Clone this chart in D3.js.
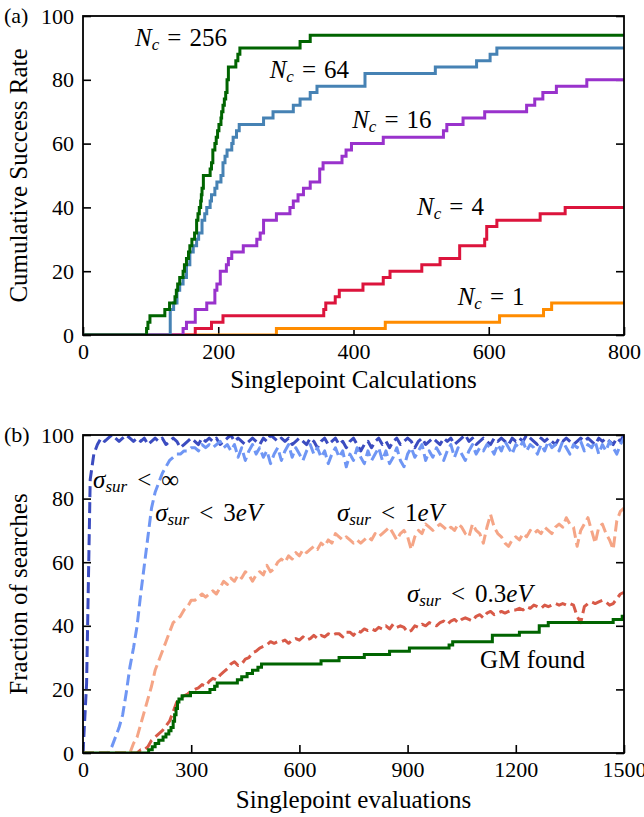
<!DOCTYPE html>
<html><head><meta charset="utf-8">
<script src="https://cdn.jsdelivr.net/npm/d3@7"></script>
<style>
body{margin:0;background:#fff;}
</style></head><body>
<svg id="chart" width="644" height="817"></svg>
<script>
// ---------- Panel (a): cumulative success rate, one step curve per N_c ----------
const ncNames = ["1", "4", "16", "64", "256"];
const ncColors = ["#ff8c00", "#dc143c", "#9932cc", "#4682b4", "#006400"];
// [singlepoint calculations, cumulative success rate %]
const nc1 = [[0,0],[286,2],[447,4],[616,6],[681,8],[693,10],[800,10]];
const nc4 = [[0,0],[166,2],[190,4],[207,6],[356,8],[359,10],[373,12],[379,14],[414,16],[444,18],[454,20],[501,22],[528,24],[557,28],[594,30],[597,34],[612,36],[676,38],[713,40],[800,40]];
const nc16 = [[0,0],[148,2],[153,4],[166,8],[183,10],[195,14],[198,16],[203,20],[212,22],[215,24],[220,26],[237,28],[257,30],[262,32],[267,36],[286,38],[306,40],[311,42],[318,44],[326,46],[336,48],[350,52],[355,54],[383,56],[389,58],[397,60],[444,62],[533,64],[538,66],[562,68],[594,70],[656,72],[668,74],[680,76],[700,78],[745,80],[800,80]];
const nc64 = [[0,0],[129,8],[134,10],[139,14],[143,16],[148,18],[153,22],[158,26],[163,28],[168,30],[171,32],[176,36],[180,38],[183,40],[188,42],[190,44],[195,46],[198,48],[204,50],[207,54],[210,56],[213,58],[220,60],[222,62],[227,64],[231,66],[267,68],[281,70],[311,72],[321,74],[336,76],[346,78],[417,82],[521,84],[582,86],[602,88],[612,90],[800,90]];
const nc256 = [[0,0],[94,2],[96,4],[99,6],[121,8],[128,10],[136,12],[138,14],[140,16],[143,18],[148,20],[150,22],[153,24],[156,26],[158,28],[161,30],[165,32],[168,36],[170,38],[172,40],[174,42],[175,44],[176,46],[178,50],[188,52],[190,54],[192,58],[195,60],[197,62],[199,64],[201,66],[204,68],[205,70],[207,72],[209,74],[211,76],[213,80],[215,84],[226,86],[229,88],[232,90],[321,92],[336,94],[800,94]];
const ncSeries = [nc1, nc4, nc16, nc64, nc256];
// label anchor positions in data units [calculations, rate]
const ncLabelPos = [[554,9.4],[494,37.6],[398,64.9],[276,80.6],[77,90.6]];
const aTicksX = [0, 200, 400, 600, 800];
const aTicksY = [0, 20, 40, 60, 80, 100];

// ---------- Panel (b): fraction of searches vs singlepoint evaluations ----------
const evalGrid = d3.range(0, 1501, 10);   // evaluation counts sampled every 10
const sigmaNames = ["\u221e", "3", "1", "0.3"];
const sigmaColors = ["#3b4cc0", "#6f96f4", "#f5a586", "#d85a48"];
const fracInf = [0,22,86,94,97,99,98,99,100,99,98,
  99,100,99,98,99,98,99,97,98,99,
  98,99,97,98,99,98,96,97,98,99,
  98,97,99,98,99,98,99,97,98,99,
  100,98,99,98,97,98,99,98,97,99,
  98,100,99,98,99,98,99,97,98,99,
  98,97,99,98,96,98,99,97,98,99,
  97,98,96,98,99,97,95,97,98,96,
  98,99,97,98,96,98,99,97,98,99,
  98,96,98,99,97,98,99,98,97,99,
  98,99,97,98,99,100,98,99,97,98,
  99,98,97,99,98,99,98,97,99,98,
  99,98,100,99,98,97,99,98,99,98,
  97,99,98,99,98,97,98,99,98,99,
  98,97,99,98,99,98,97,99,98,100];
const frac3 = [0,0,0,0,0,0,0,0,2,5,8,
  12,19,27,33,40,50,59,68,77,82,
  85,88,90,92,93,94,94,95,95,96,
  96,95,97,96,97,96,97,98,96,97,
  95,97,93,96,92,95,97,94,96,93,
  95,91,94,96,92,95,97,93,96,94,
  92,95,97,94,96,93,95,91,94,96,
  93,95,90,94,92,96,93,91,95,92,
  94,96,92,95,91,93,96,92,90,94,
  96,93,95,97,92,95,93,96,94,92,
  95,97,93,96,94,92,95,97,94,96,
  95,97,96,94,97,95,98,96,94,97,
  96,98,95,97,96,94,97,95,98,96,
  97,95,98,96,94,97,96,98,95,97,
  96,98,94,97,95,98,96,94,97,99];
const frac1 = [0,0,0,0,0,0,0,0,0,0,0,
  0,0,0,3,5,9,13,17,21,26,
  29,32,35,38,41,42,43,45,46,48,
  48,49,50,49,50,51,50,52,54,53,
  55,54,56,55,57,56,54,56,57,56,
  59,57,58,60,61,60,62,61,63,62,
  64,63,64,65,64,66,65,67,66,69,
  68,67,68,67,66,67,66,67,68,67,
  69,68,69,70,71,69,67,69,70,68,
  64,68,70,69,72,71,70,71,72,71,
  70,71,70,72,71,69,68,72,70,69,
  66,71,75,71,69,68,66,65,67,68,
  67,69,68,70,69,70,69,71,70,69,
  71,72,71,74,72,71,65,70,72,74,
  70,66,71,72,69,67,64,73,76,77];
const frac03 = [0,0,0,0,0,0,0,0,0,0,0,
  0,0,0,0,0,1,1,2,4,5,
  6,7,8.5,10,13,16,17.5,18,18.5,19.5,
  20,20.5,21.5,21,22.5,23.5,23,24.5,25.5,26.5,
  28,28.7,27.5,28,29.5,30,31.5,32,33,33.5,
  34,35,34.5,35,35,35.5,34.5,35.5,36,35.5,
  36.5,35.5,36,37,36,37,36.5,37.5,37,37.5,
  37.5,36.5,38,38,37,38.5,38,39,38.5,39,
  38.5,39.5,39,40,39,40.5,39.5,40,39.5,38,
  38.5,40,39.5,40.5,40,41,40.5,40,41,41.5,
  40.5,41.5,42,41,42,42.5,42,41.5,43,43.5,
  42.5,44,44.5,43.5,44,44.5,44,44.5,45,45,
  45.5,45,46,45.5,46.5,46,45.5,46.5,46,46.5,
  47,46.5,47,46.5,47,46.5,43,41,46,47,
  47.5,47,47.5,48,47.5,46.5,47,48.5,50,50.5];
const fracSeries = [fracInf, frac3, frac1, frac03];
// global minimum found: step curve [evaluations, %]
const gmFound = [[0,0],[175,0],[182,1],[192,2],[200,3],[210,4],[222,5],[230,6],[238,7],[244,8],[250,10],[254,12],[258,14],[262,16],[266,17],[275,18],[298,19],[352,20],[365,21],[372,22],[428,23],[440,24],[455,25],[470,26],[485,27],[495,28],[660,29],[710,30],[780,31],[850,32],[905,33],[1015,34],[1025,35],[1135,37],[1210,38],[1265,40],[1290,41],[1470,42],[1495,43],[1500,43]];
const sigmaLabelPos = [[28,83.3],[200,73],[704,73],[898,47.5]];
const gmLabelPos = [1101, 26.7];
const bTicksX = [0, 300, 600, 900, 1200, 1500];
const bTicksY = [0, 20, 40, 60, 80, 100];

// ---------- layout ----------
const FONT = "'Liberation Serif', 'Times New Roman', serif";
const svg = d3.select("#chart");
const left = 83, right = 624;
const panels = {
  a: {top: 16, bottom: 335},
  b: {top: 435, bottom: 753}
};
const tickFont = 22, labelFont = 25;

function frameAxes(g, x, y, top, bottom, ticksX, ticksY, clipId) {
  g.append("clipPath").attr("id", clipId)
    .append("rect").attr("x", left).attr("y", top).attr("width", right - left).attr("height", bottom - top);
  const ax = g.append("g");
  const bottomAxis = d3.axisBottom(x).tickValues(ticksX).tickSize(-8).tickPadding(8).tickFormat(d3.format("d"));
  const leftAxis = d3.axisLeft(y).tickValues(ticksY).tickSize(-8).tickPadding(9).tickFormat(d3.format("d"));
  const rightAxis = d3.axisRight(y).tickValues(ticksY).tickSize(-8).tickFormat("");
  ax.append("g").attr("transform", `translate(0,${bottom})`).call(bottomAxis);
  ax.append("g").attr("transform", `translate(${left},0)`).call(leftAxis);
  ax.append("g").attr("transform", `translate(${right},0)`).call(rightAxis);
  ax.selectAll(".domain").remove();
  ax.selectAll(".tick line").attr("stroke", "#000").attr("stroke-width", 1.6);
  ax.selectAll(".tick text").style("font-size", tickFont + "px").attr("fill", "#000");
  return ax;
}
function drawFrame(g, top, bottom) {
  g.append("rect").attr("x", left).attr("y", top).attr("width", right - left).attr("height", bottom - top)
    .attr("fill", "none").attr("stroke", "#000").attr("stroke-width", 1.8);
}
function axisTitles(g, top, bottom, xlabel, ylabel, xBase, tag) {
  g.append("text").attr("x", (left + right) / 2).attr("y", xBase).attr("text-anchor", "middle")
    .style("font-size", labelFont + "px").text(xlabel);
  g.append("text").attr("transform", `translate(27,${(top + bottom) / 2}) rotate(-90)`)
    .attr("text-anchor", "middle").style("font-size", labelFont + "px").text(ylabel);
  g.append("text").attr("x", 4).attr("y", top + 7).style("font-size", tickFont + "px").text(tag);
}

// ----- panel (a) -----
const ga = svg.append("g");
const xa = d3.scaleLinear().domain([0, 800]).range([left, right]);
const ya = d3.scaleLinear().domain([0, 100]).range([panels.a.bottom, panels.a.top]);
frameAxes(ga, xa, ya, panels.a.top, panels.a.bottom, aTicksX, aTicksY, "clipA");
const stepLine = d3.line().x(d => xa(d[0])).y(d => ya(d[1])).curve(d3.curveStepAfter);
const linesA = ga.append("g").attr("clip-path", "url(#clipA)");
ncSeries.forEach((s, i) => {
  linesA.append("path").datum(s).attr("d", stepLine).attr("fill", "none")
    .attr("stroke", ncColors[i]).attr("stroke-width", 3);
});
drawFrame(ga, panels.a.top, panels.a.bottom);
axisTitles(ga, panels.a.top, panels.a.bottom, "Singlepoint Calculations", "Cumulative Success Rate", 388, "(a)");
ncNames.forEach((n, i) => {
  const p = ncLabelPos[i];
  const t = ga.append("text").attr("x", xa(p[0])).attr("y", ya(p[1])).style("font-size", labelFont + "px");
  t.append("tspan").style("font-style", "italic").text("N");
  t.append("tspan").style("font-style", "italic").style("font-size", "17px").attr("dy", 4).text("c");
  t.append("tspan").attr("dy", -4).attr("dx", 8).text("=");
  t.append("tspan").attr("dx", 8).text(n);
});

// ----- panel (b) -----
const gb = svg.append("g");
const xb = d3.scaleLinear().domain([0, 1500]).range([left, right]);
const yb = d3.scaleLinear().domain([0, 100]).range([panels.b.bottom, panels.b.top]);
frameAxes(gb, xb, yb, panels.b.top, panels.b.bottom, bTicksX, bTicksY, "clipB");
const linesB = gb.append("g").attr("clip-path", "url(#clipB)");
const fracLine = d3.line().x((d, i) => xb(evalGrid[i])).y(d => yb(d));
fracSeries.forEach((s, i) => {
  linesB.append("path").datum(s).attr("d", fracLine).attr("fill", "none")
    .attr("stroke", sigmaColors[i]).attr("stroke-width", 3)
    .attr("stroke-dasharray", "11,5").attr("stroke-linejoin", "round");
});
const gmLine = d3.line().x(d => xb(d[0])).y(d => yb(d[1])).curve(d3.curveStepAfter);
linesB.append("path").datum(gmFound).attr("d", gmLine).attr("fill", "none")
  .attr("stroke", "#006400").attr("stroke-width", 3);
drawFrame(gb, panels.b.top, panels.b.bottom);
axisTitles(gb, panels.b.top, panels.b.bottom, "Singlepoint evaluations", "Fraction of searches", 808, "(b)");
sigmaNames.forEach((n, i) => {
  const p = sigmaLabelPos[i];
  const t = gb.append("text").attr("x", xb(p[0])).attr("y", yb(p[1])).style("font-size", labelFont + "px");
  t.append("tspan").style("font-style", "italic").text("\u03c3");
  t.append("tspan").style("font-style", "italic").style("font-size", "17px").attr("dy", 4).text("sur");
  t.append("tspan").attr("dy", -4).attr("dx", 10).text("<");
  if (n === "\u221e") {
    t.append("tspan").attr("dx", 10).text("\u221e");
  } else {
    t.append("tspan").attr("dx", 10).text(n);
    t.append("tspan").style("font-style", "italic").text("eV");
  }
});
gb.append("text").attr("x", xb(gmLabelPos[0])).attr("y", yb(gmLabelPos[1]))
  .style("font-size", labelFont + "px").text("GM found");

// serif face on every text element, tick labels included
svg.selectAll("text").style("font-family", FONT).style("fill", "#000");
svg.selectAll("g").attr("font-family", null);
</script>
</body></html>
